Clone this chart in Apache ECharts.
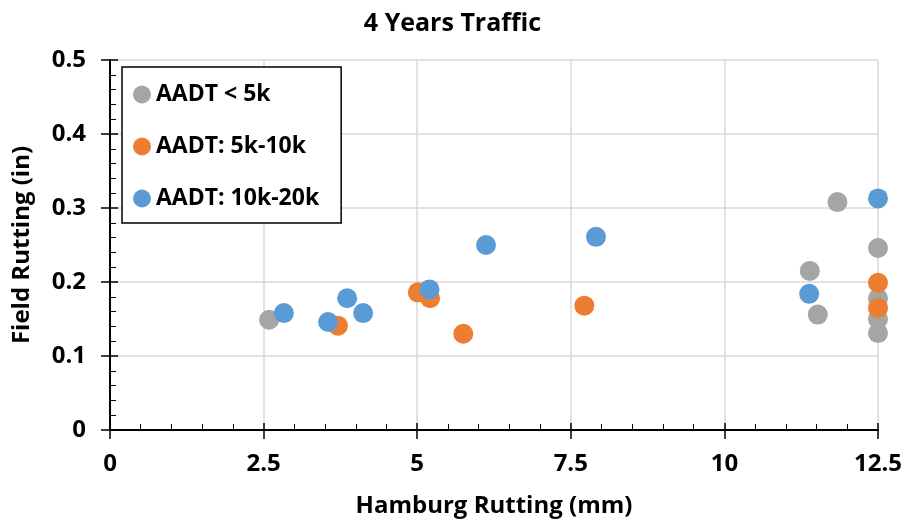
<!DOCTYPE html>
<html lang="en">

<head>
    <meta charset="UTF-8">
    <title>4 Years Traffic</title>
    <style>
        html,
        body,
        #chart {
            margin: 0;
            padding: 0;
            overflow: hidden;
            width: 100%;
            height: 100%;
            background: #fff;
        }
    </style>
</head>

<body>
    <div id="chart"></div>
    <script src="https://cdn.jsdelivr.net/npm/echarts@6/dist/echarts.min.js"></script>
    <script>
        var seriesNames = ["AADT < 5k", "AADT: 5k-10k", "AADT: 10k-20k"];
        var colors = ["#A5A5A5", "#ED7D31", "#5B9BD5"];

        // [hamburg rutting (mm), field rutting (in)]
        var lowTraffic = [
            [2.59, 0.149], [11.84, 0.308], [11.39, 0.215], [11.52, 0.156],
            [12.5, 0.246], [12.5, 0.178], [12.5, 0.150], [12.5, 0.131]
        ];
        var midTraffic = [
            [3.71, 0.141], [5.01, 0.186], [5.21, 0.178], [5.75, 0.130],
            [7.72, 0.168], [12.5, 0.199], [12.5, 0.165]
        ];
        var highTraffic = [
            [2.83, 0.158], [3.55, 0.146], [3.86, 0.178], [4.12, 0.158],
            [5.20, 0.190], [6.12, 0.250], [7.91, 0.261], [11.38, 0.184],
            [12.5, 0.313]
        ];

        var font = "Open Sans";
        var chart = echarts.init(document.getElementById('chart'));

        // main axis: labels, inside major + minor ticks, gridlines
        function mainX() {
            return {
                type: 'value', position: 'bottom', min: 0, max: 12.5, interval: 2.5,
                name: 'Hamburg Rutting (mm)', nameLocation: 'middle', nameGap: 64,
                nameTextStyle: { fontFamily: font, fontWeight: 'bold', fontSize: 24, color: '#000' },
                axisLine: { lineStyle: { color: '#000', width: 2 } },
                axisTick: { inside: true, length: 7, lineStyle: { color: '#000', width: 1.5 } },
                minorTick: { show: true, splitNumber: 5, length: 6, lineStyle: { color: '#000', width: 1 } },
                axisLabel: { margin: 22, fontFamily: font, fontWeight: 'bold', fontSize: 24, color: '#000' },
                splitLine: { lineStyle: { color: '#D9D9D9', width: 1.5 } }
            };
        }

        function mainY() {
            return {
                type: 'value', position: 'left', min: 0, max: 0.5, interval: 0.1,
                name: 'Field Rutting (in)', nameLocation: 'middle', nameGap: 76,
                nameTextStyle: { fontFamily: font, fontWeight: 'bold', fontSize: 24, color: '#000' },
                axisLine: { lineStyle: { color: '#000', width: 2 } },
                axisTick: { inside: true, length: 8, lineStyle: { color: '#000', width: 1.5 } },
                minorTick: { show: true, splitNumber: 5, length: 6, lineStyle: { color: '#000', width: 1 } },
                axisLabel: { margin: 24, fontFamily: font, fontWeight: 'bold', fontSize: 24, color: '#000' },
                splitLine: { lineStyle: { color: '#D9D9D9', width: 1.5 } }
            };
        }

        // extra axes: outside half of major ticks, and top/right frame
        function plainAxis(pos, min, max, interval, ticks) {
            return {
                type: 'value', position: pos, min: min, max: max, interval: interval, z: 1,
                axisLine: { show: true, lineStyle: { color: '#000', width: 2 } },
                axisTick: { show: ticks, inside: false, length: 9, lineStyle: { color: '#000', width: 1.5 } },
                axisLabel: { show: false },
                splitLine: { show: false }
            };
        }

        var series = [lowTraffic, midTraffic, highTraffic].map(function (d, i) {
            return {
                name: seriesNames[i],
                type: 'scatter',
                data: d,
                symbolSize: 20,
                itemStyle: { color: colors[i], opacity: 1 },
                z: 2 + i
            };
        });

        chart.setOption({
            animation: false,
            title: {
                text: '4 Years Traffic',
                left: 'center', top: 6,
                textStyle: { fontFamily: font, fontWeight: 'bold', fontSize: 25, color: '#000' }
            },
            grid: { left: 110, right: 27, top: 60, bottom: 94 },
            legend: {
                orient: 'vertical',
                left: 122, top: 67,
                padding: [16, 22, 13, 11],
                itemGap: 29,
                itemWidth: 18, itemHeight: 18,
                icon: 'circle',
                backgroundColor: '#fff',
                borderColor: '#000', borderWidth: 1.5, borderRadius: 0,
                textStyle: { fontFamily: font, fontWeight: 'bold', fontSize: 23, color: '#000', padding: [0, 0, 0, 0] },
                data: seriesNames
            },
            xAxis: [
                mainX(),
                plainAxis('bottom', 0, 12.5, 2.5, true),
                plainAxis('top', 0, 12.5, 2.5, false)
            ],
            yAxis: [
                mainY(),
                plainAxis('left', 0, 0.5, 0.1, true),
                plainAxis('right', 0, 0.5, 0.1, false)
            ],
            series: series
        });
    </script>
</body>

</html>
